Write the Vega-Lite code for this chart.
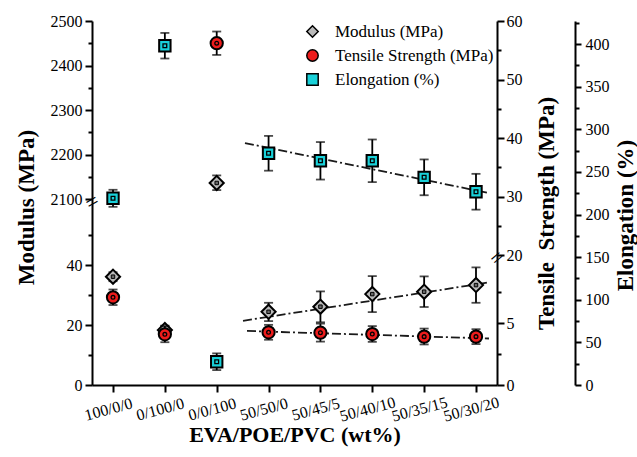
{
  "$schema": "https://vega.github.io/schema/vega-lite/v6.json",
  "width": 405,
  "height": 364,
  "autosize": {"type": "none"},
  "padding": {"left": 92, "top": 21, "right": 140, "bottom": 72},
  "background": "white",
  "config": {
    "view": {"stroke": null},
    "font": "Liberation Serif, Times New Roman, serif",
    "axis": {
      "grid": false,
      "domainColor": "black",
      "tickColor": "black",
      "labelColor": "black",
      "titleColor": "black",
      "labelFont": "Liberation Serif, Times New Roman, serif",
      "titleFont": "Liberation Serif, Times New Roman, serif",
      "domainWidth": 2,
      "tickWidth": 2,
      "labelFontSize": 16,
      "titleFontSize": 23,
      "titleFontWeight": "bold",
      "labelOverlap": false,
      "labelFlush": false,
      "format": "d"
    },
    "legend": {
      "labelFont": "Liberation Serif, Times New Roman, serif"
    }
  },
  "datasets": {
    "mod": [
      {"series": "Modulus (MPa)", "i": 1, "value": 36.1, "lo": 34.6, "hi": 37.6},
      {"series": "Modulus (MPa)", "i": 2, "value": 18.3, "lo": 16.8, "hi": 19.8},
      {"series": "Modulus (MPa)", "i": 3, "value": 2136, "lo": 2120, "hi": 2153},
      {"series": "Modulus (MPa)", "i": 4, "value": 24.4, "lo": 21.3, "hi": 27.4},
      {"series": "Modulus (MPa)", "i": 5, "value": 26.1, "lo": 20.9, "hi": 31.2},
      {"series": "Modulus (MPa)", "i": 6, "value": 30.3, "lo": 24.3, "hi": 36.3},
      {"series": "Modulus (MPa)", "i": 7, "value": 31.1, "lo": 26.0, "hi": 36.2},
      {"series": "Modulus (MPa)", "i": 8, "value": 33.3, "lo": 27.4, "hi": 39.2}
    ],
    "ten": [
      {"series": "Tensile Strength (MPa)", "i": 1, "value": 7.07, "lo": 6.45, "hi": 7.7},
      {"series": "Tensile Strength (MPa)", "i": 2, "value": 4.09, "lo": 3.45, "hi": 4.75},
      {"series": "Tensile Strength (MPa)", "i": 3, "value": 56.2, "lo": 54.2, "hi": 58.2},
      {"series": "Tensile Strength (MPa)", "i": 4, "value": 4.25, "lo": 3.65, "hi": 4.85},
      {"series": "Tensile Strength (MPa)", "i": 5, "value": 4.22, "lo": 3.5, "hi": 4.95},
      {"series": "Tensile Strength (MPa)", "i": 6, "value": 4.11, "lo": 3.48, "hi": 4.75},
      {"series": "Tensile Strength (MPa)", "i": 7, "value": 3.9, "lo": 3.27, "hi": 4.55},
      {"series": "Tensile Strength (MPa)", "i": 8, "value": 3.9, "lo": 3.3, "hi": 4.5}
    ],
    "elo": [
      {"series": "Elongation (%)", "i": 1, "value": 219, "lo": 209, "hi": 229},
      {"series": "Elongation (%)", "i": 2, "value": 398, "lo": 383, "hi": 413},
      {"series": "Elongation (%)", "i": 3, "value": 27.3, "lo": 17.5, "hi": 37.1},
      {"series": "Elongation (%)", "i": 4, "value": 271.8, "lo": 251.4, "hi": 292.2},
      {"series": "Elongation (%)", "i": 5, "value": 263, "lo": 241, "hi": 285},
      {"series": "Elongation (%)", "i": 6, "value": 263, "lo": 238, "hi": 288},
      {"series": "Elongation (%)", "i": 7, "value": 243.6, "lo": 222.6, "hi": 264.6},
      {"series": "Elongation (%)", "i": 8, "value": 226.7, "lo": 205.7, "hi": 247.7}
    ],
    "modfit": [{"i": 3.507, "value": 21.4}, {"i": 8.21, "value": 34.1}],
    "tenfit": [{"i": 3.584, "value": 4.36}, {"i": 8.25, "value": 3.75}],
    "elofit": [{"i": 3.545, "value": 283.8}, {"i": 8.21, "value": 225.6}],
    "modbrk": [{"i": 0.595, "value": 1080}],
    "tenbrk": [{"i": 8.405, "value": 15}]
  },
  "encoding": {
    "x": {"field": "i", "type": "quantitative", "scale": {"domain": [0.595, 8.405], "nice": false, "zero": false},
      "axis": {"orient": "bottom", "values": [1, 2, 3, 4, 5, 6, 7, 8],
        "labelExpr": "['100/0/0','0/100/0','0/0/100','50/50/0','50/45/5','50/40/10','50/35/15','50/30/20'][datum.value-1]",
        "labelAngle": -15, "labelAlign": "center", "labelBaseline": "middle", "labelPadding": 17, "labelOffset": -5,
        "labelFontSize": 16, "tickSize": 7, "title": "EVA/POE/PVC (wt%)", "titleY": 56, "titleBaseline": "alphabetic", "titleFontSize": 22}}
  },
  "layer": [
    {
      "resolve": {"axis": {"y": "independent"}},
      "layer": [
        {
          "data": {"name": "modfit"},
          "mark": {"type": "line", "color": "#1a1a1a", "strokeWidth": 1.8, "strokeDash": [9, 3, 2, 3]},
          "encoding": {
            "y": {"field": "value", "type": "quantitative", "scale": {"type": "linear", "domain": [0, 60, 2100, 2500], "range": [364, 184, 178, 0], "nice": false, "zero": false}, "axis": null}
          }
        },
        {
          "data": {"name": "mod"},
          "mark": {"type": "rule", "color": "black", "strokeWidth": 1.8},
          "encoding": {
            "y": {"field": "lo", "type": "quantitative", "scale": {"type": "linear", "domain": [0, 60, 2100, 2500], "range": [364, 184, 178, 0], "nice": false, "zero": false},
              "axis": {"orient": "left", "values": [10, 30, 50, 2150, 2250, 2350, 2450], "labels": false, "domain": false, "tickSize": 4, "title": null}},
            "y2": {"field": "hi"}
          }
        },
        {
          "data": {"name": "mod"},
          "mark": {"type": "tick", "orient": "horizontal", "color": "black", "size": 9, "thickness": 1.8},
          "encoding": {
            "y": {"field": "lo", "type": "quantitative", "scale": {"type": "linear", "domain": [0, 60, 2100, 2500], "range": [364, 184, 178, 0], "nice": false, "zero": false}, "axis": null}
          }
        },
        {
          "data": {"name": "mod"},
          "mark": {"type": "tick", "orient": "horizontal", "color": "black", "size": 9, "thickness": 1.8},
          "encoding": {
            "y": {"field": "hi", "type": "quantitative", "scale": {"type": "linear", "domain": [0, 60, 2100, 2500], "range": [364, 184, 178, 0], "nice": false, "zero": false}, "axis": null}
          }
        },
        {
          "data": {"name": "mod"},
          "mark": {"type": "point", "filled": true, "size": 200, "stroke": "black", "strokeWidth": 2, "opacity": 1},
          "encoding": {
            "y": {"field": "value", "type": "quantitative", "scale": {"type": "linear", "domain": [0, 60, 2100, 2500], "range": [364, 184, 178, 0], "nice": false, "zero": false},
              "axis": {"orient": "left", "values": [0, 20, 40, 2100, 2200, 2300, 2400, 2500], "tickSize": 7, "labelPadding": 3,
                "title": "Modulus (MPa)", "titleX": -59, "titleY": 186, "titleAngle": 270, "titleBaseline": "alphabetic", "titleAlign": "center"}},
            "fill": {"field": "series", "type": "nominal",
              "scale": {"domain": ["Modulus (MPa)", "Tensile Strength (MPa)", "Elongation (%)"], "range": ["#bababa", "#ee1c1c", "#19d1d9"]},
              "legend": {"orient": "none", "legendX": 212, "legendY": 2, "title": null, "padding": 0, "labelFont": "Liberation Serif, Times New Roman, serif", "labelFontSize": 17, "labelColor": "black", "symbolSize": 130, "rowPadding": 5, "labelOffset": 14,
                "encode": {"symbols": {"update": {"stroke": {"value": "black"}, "strokeWidth": {"value": 2}}}}}},
            "shape": {"field": "series", "type": "nominal",
              "scale": {"domain": ["Modulus (MPa)", "Tensile Strength (MPa)", "Elongation (%)"], "range": ["diamond", "circle", "square"]},
              "legend": {"orient": "none", "legendX": 212, "legendY": 2, "title": null, "padding": 0, "labelFont": "Liberation Serif, Times New Roman, serif", "labelFontSize": 17, "labelColor": "black", "symbolSize": 130, "rowPadding": 5, "labelOffset": 14,
                "encode": {"symbols": {"update": {"stroke": {"value": "black"}, "strokeWidth": {"value": 2}}}}}}
          }
        },
        {
          "data": {"name": "mod"},
          "mark": {"type": "point", "filled": true, "shape": "square", "size": 12, "fill": "#6a6a6a", "stroke": "black", "strokeWidth": 1, "opacity": 1},
          "encoding": {
            "y": {"field": "value", "type": "quantitative", "scale": {"type": "linear", "domain": [0, 60, 2100, 2500], "range": [364, 184, 178, 0], "nice": false, "zero": false}, "axis": null}
          }
        },
        {
          "data": {"name": "modbrk"},
          "mark": {"type": "text", "text": "=", "fontSize": 22, "angle": 330, "color": "black", "align": "center", "baseline": "middle"},
          "encoding": {
            "y": {"field": "value", "type": "quantitative", "scale": {"type": "linear", "domain": [0, 60, 2100, 2500], "range": [364, 184, 178, 0], "nice": false, "zero": false}, "axis": null}
          }
        }
      ]
    },
    {
      "resolve": {"axis": {"y": "independent"}},
      "layer": [
        {
          "data": {"name": "tenfit"},
          "mark": {"type": "line", "color": "#1a1a1a", "strokeWidth": 1.8, "strokeDash": [9, 3, 2, 3]},
          "encoding": {
            "y": {"field": "value", "type": "quantitative", "scale": {"type": "linear", "domain": [0, 10, 20, 60], "range": [364, 240, 234, 0], "nice": false, "zero": false}, "axis": null}
          }
        },
        {
          "data": {"name": "ten"},
          "mark": {"type": "rule", "color": "black", "strokeWidth": 1.8},
          "encoding": {
            "y": {"field": "lo", "type": "quantitative", "scale": {"type": "linear", "domain": [0, 10, 20, 60], "range": [364, 240, 234, 0], "nice": false, "zero": false},
              "axis": {"orient": "right", "values": [2.5, 7.5, 25, 35, 45, 55], "labels": false, "domain": false, "tickSize": 4, "title": null}},
            "y2": {"field": "hi"}
          }
        },
        {
          "data": {"name": "ten"},
          "mark": {"type": "tick", "orient": "horizontal", "color": "black", "size": 9, "thickness": 1.8},
          "encoding": {
            "y": {"field": "lo", "type": "quantitative", "scale": {"type": "linear", "domain": [0, 10, 20, 60], "range": [364, 240, 234, 0], "nice": false, "zero": false}, "axis": null}
          }
        },
        {
          "data": {"name": "ten"},
          "mark": {"type": "tick", "orient": "horizontal", "color": "black", "size": 9, "thickness": 1.8},
          "encoding": {
            "y": {"field": "hi", "type": "quantitative", "scale": {"type": "linear", "domain": [0, 10, 20, 60], "range": [364, 240, 234, 0], "nice": false, "zero": false}, "axis": null}
          }
        },
        {
          "data": {"name": "ten"},
          "mark": {"type": "point", "filled": true, "size": 150, "stroke": "black", "strokeWidth": 2, "opacity": 1},
          "encoding": {
            "y": {"field": "value", "type": "quantitative", "scale": {"type": "linear", "domain": [0, 10, 20, 60], "range": [364, 240, 234, 0], "nice": false, "zero": false},
              "axis": {"orient": "right", "values": [0, 5, 20, 30, 40, 50, 60], "tickSize": 7, "labelPadding": 2,
                "title": "Tensile\u00a0\u00a0Strength (MPa)", "titleX": 56, "titleY": 192, "titleAngle": 270, "titleBaseline": "alphabetic", "titleAlign": "center"}},
            "fill": {"field": "series", "type": "nominal",
              "scale": {"domain": ["Modulus (MPa)", "Tensile Strength (MPa)", "Elongation (%)"], "range": ["#bababa", "#ee1c1c", "#19d1d9"]},
              "legend": {"orient": "none", "legendX": 212, "legendY": 2, "title": null, "padding": 0, "labelFont": "Liberation Serif, Times New Roman, serif", "labelFontSize": 17, "labelColor": "black", "symbolSize": 130, "rowPadding": 5, "labelOffset": 14,
                "encode": {"symbols": {"update": {"stroke": {"value": "black"}, "strokeWidth": {"value": 2}}}}}},
            "shape": {"field": "series", "type": "nominal",
              "scale": {"domain": ["Modulus (MPa)", "Tensile Strength (MPa)", "Elongation (%)"], "range": ["diamond", "circle", "square"]},
              "legend": {"orient": "none", "legendX": 212, "legendY": 2, "title": null, "padding": 0, "labelFont": "Liberation Serif, Times New Roman, serif", "labelFontSize": 17, "labelColor": "black", "symbolSize": 130, "rowPadding": 5, "labelOffset": 14,
                "encode": {"symbols": {"update": {"stroke": {"value": "black"}, "strokeWidth": {"value": 2}}}}}}
          }
        },
        {
          "data": {"name": "ten"},
          "mark": {"type": "point", "filled": false, "shape": "circle", "size": 14, "stroke": "black", "strokeWidth": 1.3, "opacity": 1},
          "encoding": {
            "y": {"field": "value", "type": "quantitative", "scale": {"type": "linear", "domain": [0, 10, 20, 60], "range": [364, 240, 234, 0], "nice": false, "zero": false}, "axis": null}
          }
        },
        {
          "data": {"name": "tenbrk"},
          "mark": {"type": "text", "text": "=", "fontSize": 22, "angle": 320, "color": "black", "align": "center", "baseline": "middle"},
          "encoding": {
            "y": {"field": "value", "type": "quantitative", "scale": {"type": "linear", "domain": [0, 10, 20, 60], "range": [364, 240, 234, 0], "nice": false, "zero": false}, "axis": null}
          }
        }
      ]
    },
    {
      "resolve": {"axis": {"y": "independent"}},
      "layer": [
        {
          "data": {"name": "elofit"},
          "mark": {"type": "line", "color": "#1a1a1a", "strokeWidth": 1.8, "strokeDash": [9, 3, 2, 3]},
          "encoding": {
            "y": {"field": "value", "type": "quantitative", "scale": {"type": "linear", "domain": [0, 427], "range": [364, 0], "nice": false, "zero": false}, "axis": null}
          }
        },
        {
          "data": {"name": "elo"},
          "mark": {"type": "rule", "color": "black", "strokeWidth": 1.8},
          "encoding": {
            "y": {"field": "lo", "type": "quantitative", "scale": {"type": "linear", "domain": [0, 427], "range": [364, 0], "nice": false, "zero": false},
              "axis": {"orient": "right", "offset": 78, "values": [25, 75, 125, 175, 225, 275, 325, 375, 425], "labels": false, "domain": false, "tickSize": 4, "title": null}},
            "y2": {"field": "hi"}
          }
        },
        {
          "data": {"name": "elo"},
          "mark": {"type": "tick", "orient": "horizontal", "color": "black", "size": 9, "thickness": 1.8},
          "encoding": {
            "y": {"field": "lo", "type": "quantitative", "scale": {"type": "linear", "domain": [0, 427], "range": [364, 0], "nice": false, "zero": false}, "axis": null}
          }
        },
        {
          "data": {"name": "elo"},
          "mark": {"type": "tick", "orient": "horizontal", "color": "black", "size": 9, "thickness": 1.8},
          "encoding": {
            "y": {"field": "hi", "type": "quantitative", "scale": {"type": "linear", "domain": [0, 427], "range": [364, 0], "nice": false, "zero": false}, "axis": null}
          }
        },
        {
          "data": {"name": "elo"},
          "mark": {"type": "point", "filled": true, "size": 130, "stroke": "black", "strokeWidth": 2, "opacity": 1},
          "encoding": {
            "y": {"field": "value", "type": "quantitative", "scale": {"type": "linear", "domain": [0, 427], "range": [364, 0], "nice": false, "zero": false},
              "axis": {"orient": "right", "offset": 78, "values": [0, 50, 100, 150, 200, 250, 300, 350, 400], "tickSize": 6, "labelPadding": 4,
                "title": "Elongation (%)", "titleX": 57, "titleY": 194, "titleAngle": 270, "titleBaseline": "alphabetic", "titleAlign": "center"}},
            "fill": {"field": "series", "type": "nominal",
              "scale": {"domain": ["Modulus (MPa)", "Tensile Strength (MPa)", "Elongation (%)"], "range": ["#bababa", "#ee1c1c", "#19d1d9"]},
              "legend": {"orient": "none", "legendX": 212, "legendY": 2, "title": null, "padding": 0, "labelFont": "Liberation Serif, Times New Roman, serif", "labelFontSize": 17, "labelColor": "black", "symbolSize": 130, "rowPadding": 5, "labelOffset": 14,
                "encode": {"symbols": {"update": {"stroke": {"value": "black"}, "strokeWidth": {"value": 2}}}}}},
            "shape": {"field": "series", "type": "nominal",
              "scale": {"domain": ["Modulus (MPa)", "Tensile Strength (MPa)", "Elongation (%)"], "range": ["diamond", "circle", "square"]},
              "legend": {"orient": "none", "legendX": 212, "legendY": 2, "title": null, "padding": 0, "labelFont": "Liberation Serif, Times New Roman, serif", "labelFontSize": 17, "labelColor": "black", "symbolSize": 130, "rowPadding": 5, "labelOffset": 14,
                "encode": {"symbols": {"update": {"stroke": {"value": "black"}, "strokeWidth": {"value": 2}}}}}}
          }
        },
        {
          "data": {"name": "elo"},
          "mark": {"type": "point", "filled": false, "shape": "square", "size": 14, "stroke": "black", "strokeWidth": 1.3, "opacity": 1},
          "encoding": {
            "y": {"field": "value", "type": "quantitative", "scale": {"type": "linear", "domain": [0, 427], "range": [364, 0], "nice": false, "zero": false}, "axis": null}
          }
        }
      ]
    }
  ],
  "resolve": {"scale": {"y": "independent"}}
}
